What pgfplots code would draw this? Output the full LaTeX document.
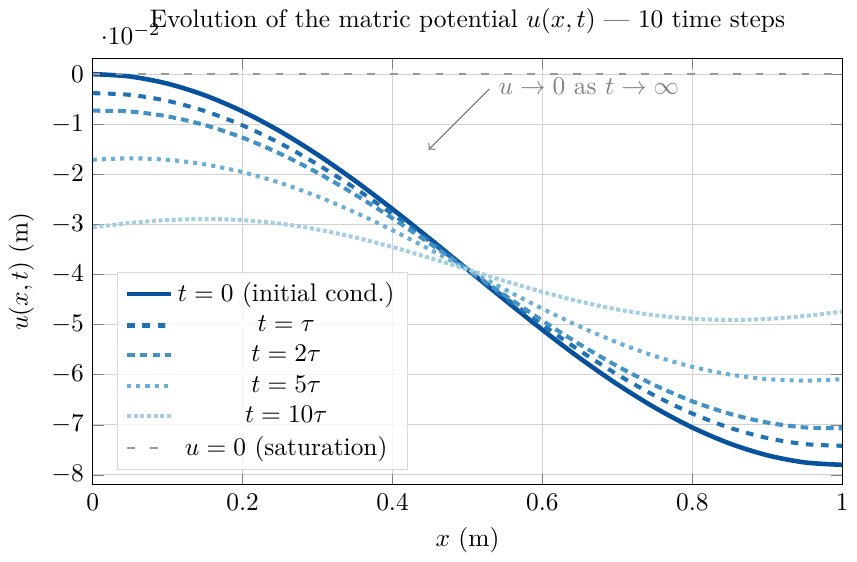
\documentclass[border=0pt]{standalone}
\usepackage{pgfplots}
\pgfplotsset{compat=1.18}
\definecolor{B0}{HTML}{08519C}
\definecolor{B1}{HTML}{2171B5}
\definecolor{B2}{HTML}{4292C6}
\definecolor{B5}{HTML}{6BAED6}
\definecolor{B10}{HTML}{A6CEE3}

\begin{document}
\begin{tikzpicture}
\begin{axis}[
  scale only axis,
  width=295pt,
  height=168pt,
  xmin=0, xmax=1,
  ymin=-0.082, ymax=0.0032,
  xtick={0,0.2,0.4,0.6,0.8,1},
  ytick={-0.08,-0.07,-0.06,-0.05,-0.04,-0.03,-0.02,-0.01,0},
  grid=major,
  major grid style={gray!35, line width=0.4pt},
  title={Evolution of the matric potential $u(x,t)$ --- 10 time steps},
  xlabel={$x$ (m)},
  ylabel={$u(x,t)$ (m)},
  legend cell align=center,
  legend style={at={(0.032,0.035)}, anchor=south west, draw=gray!30,
    fill=white, fill opacity=0.8, text opacity=1},
]
\addplot[B0, line width=1.8pt, smooth] coordinates {
(0,0) (0.05,-0.048e-2) (0.1,-0.191e-2) (0.15,-0.425e-2) (0.2,-0.745e-2)
(0.25,-1.142e-2) (0.3,-1.608e-2) (0.35,-2.129e-2) (0.4,-2.695e-2) (0.45,-3.290e-2)
(0.5,-3.9e-2) (0.55,-4.510e-2) (0.6,-5.105e-2) (0.65,-5.671e-2) (0.7,-6.192e-2)
(0.75,-6.658e-2) (0.8,-7.055e-2) (0.85,-7.375e-2) (0.9,-7.609e-2) (0.95,-7.752e-2)
(1,-7.8e-2)};
\addlegendentry{$t=0$ (initial cond.)}
\addplot[B1, line width=1.6pt, dashed, smooth] coordinates {
(0,-0.38e-2) (0.05,-0.414e-2) (0.1,-0.535e-2) (0.15,-0.739e-2) (0.2,-1.024e-2)
(0.25,-1.381e-2) (0.3,-1.803e-2) (0.35,-2.278e-2) (0.4,-2.795e-2) (0.45,-3.340e-2)
(0.5,-3.9e-2) (0.55,-4.460e-2) (0.6,-5.005e-2) (0.65,-5.522e-2) (0.7,-5.997e-2)
(0.75,-6.419e-2) (0.8,-6.776e-2) (0.85,-7.061e-2) (0.9,-7.265e-2) (0.95,-7.386e-2)
(1,-7.42e-2)};
\addlegendentry{$t=\tau$}
\addplot[B2, line width=1.6pt, densely dashed, smooth] coordinates {
(0,-0.73e-2) (0.05,-0.747e-2) (0.1,-0.844e-2) (0.15,-1.019e-2) (0.2,-1.269e-2)
(0.25,-1.589e-2) (0.3,-1.970e-2) (0.35,-2.404e-2) (0.4,-2.879e-2) (0.45,-3.383e-2)
(0.5,-3.9e-2) (0.55,-4.417e-2) (0.6,-4.921e-2) (0.65,-5.396e-2) (0.7,-5.830e-2)
(0.75,-6.211e-2) (0.8,-6.531e-2) (0.85,-6.781e-2) (0.9,-6.956e-2) (0.95,-7.053e-2)
(1,-7.07e-2)};
\addlegendentry{$t=2\tau$}
\addplot[B5, line width=1.6pt, dotted, smooth] coordinates {
(0,-1.71e-2) (0.05,-1.681e-2) (0.1,-1.711e-2) (0.15,-1.803e-2) (0.2,-1.957e-2)
(0.25,-2.171e-2) (0.3,-2.442e-2) (0.35,-2.760e-2) (0.4,-3.117e-2) (0.45,-3.502e-2)
(0.5,-3.9e-2) (0.55,-4.298e-2) (0.6,-4.683e-2) (0.65,-5.040e-2) (0.7,-5.358e-2)
(0.75,-5.629e-2) (0.8,-5.843e-2) (0.85,-5.997e-2) (0.9,-6.089e-2) (0.95,-6.119e-2)
(1,-6.09e-2)};
\addlegendentry{$t=5\tau$}
\addplot[B10, line width=1.6pt, densely dotted, smooth] coordinates {
(0,-3.06e-2) (0.05,-2.971e-2) (0.1,-2.913e-2) (0.15,-2.893e-2) (0.2,-2.916e-2)
(0.25,-2.986e-2) (0.3,-3.102e-2) (0.35,-3.260e-2) (0.4,-3.452e-2) (0.45,-3.670e-2)
(0.5,-3.9e-2) (0.55,-4.130e-2) (0.6,-4.348e-2) (0.65,-4.540e-2) (0.7,-4.698e-2)
(0.75,-4.814e-2) (0.8,-4.884e-2) (0.85,-4.907e-2) (0.9,-4.887e-2) (0.95,-4.829e-2)
(1,-4.74e-2)};
\addlegendentry{$t=10\tau$}
\addplot[gray!80, line width=0.8pt, loosely dashed] coordinates {(0,0) (1,0)};
\addlegendentry{$u=0$ (saturation)}
\draw[gray, ->, line width=0.5pt] (axis cs:0.529,-0.0030) -- (axis cs:0.448,-0.0151);
\node[gray, anchor=center] at (axis cs:0.662,-0.0024) {$u\to 0$ as $t\to\infty$};
\end{axis}
\end{tikzpicture}
\end{document}
